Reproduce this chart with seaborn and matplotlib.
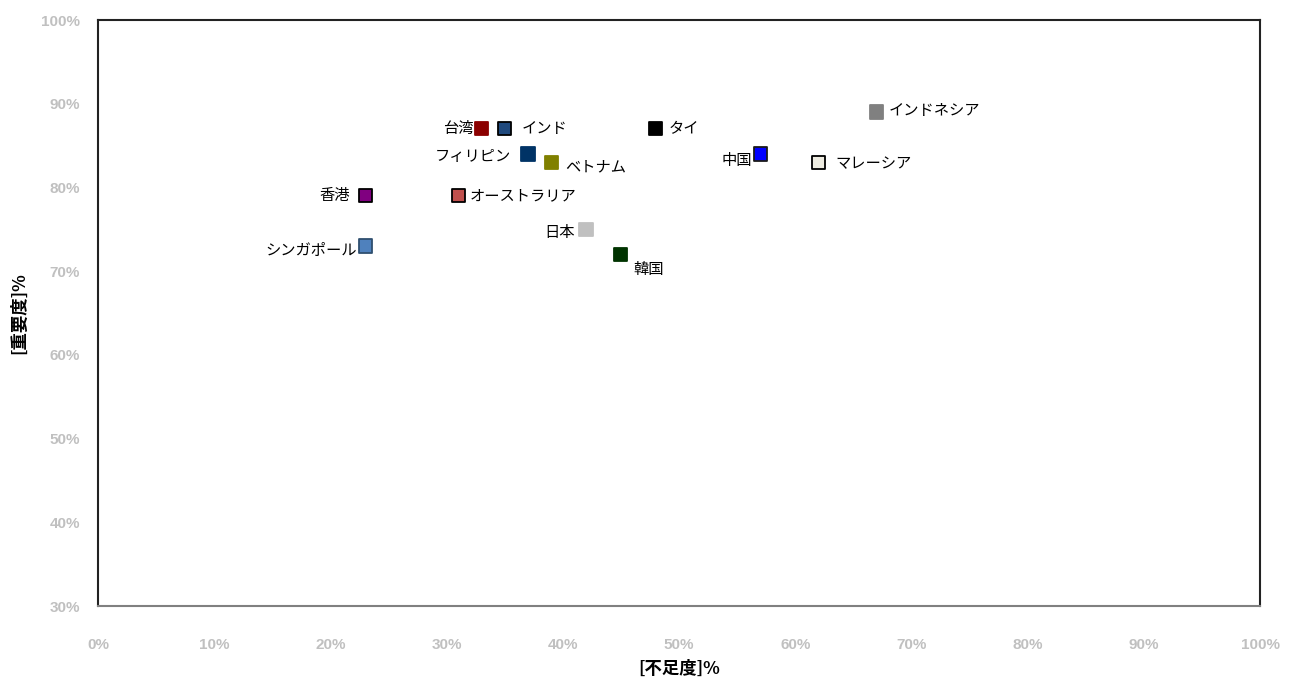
import matplotlib
matplotlib.use("Agg")
import matplotlib.pyplot as plt
import seaborn as sns
import pandas as pd
from matplotlib.ticker import FuncFormatter, MultipleLocator

# Data
countries = ["台湾", "インド", "タイ", "インドネシア", "フィリピン", "ベトナム", "中国",
             "マレーシア", "香港", "オーストラリア", "日本", "シンガポール", "韓国"]
shortage = [33, 35, 48, 67, 37, 39, 57, 62, 23, 31, 42, 23, 45]      # 不足度 %
importance = [87, 87, 87, 89, 84, 83, 84, 83, 79, 79, 75, 73, 72]     # 重要度 %
fill_colors = ["#8B0000", "#1F497D", "#000000", "#808080", "#003366", "#808000", "#0000FF",
               "#EEECE1", "#800080", "#C0504D", "#C0C0C0", "#4F81BD", "#003300"]
edge_colors = ["#8B0000", "#000000", "#000000", "#808080", "#003366", "#808000", "#1A1A1A",
               "#000000", "#000000", "#000000", "#C0C0C0", "#2F4F6F", "#003300"]
# label offsets (points): dx, dy, ha
label_pos = [(-6, 0, "right"), (12, 0, "left"), (9, 0, "left"), (9, 1, "left"),
             (-12, -2, "right"), (10, -3, "left"), (-6, -5, "right"), (12, -1, "left"),
             (-11, 0, "right"), (8, 0, "left"), (-8, -2, "right"), (-6, -3, "right"),
             (9, -11, "left")]

df = pd.DataFrame({"country": countries, "x": shortage, "y": importance})

sns.set_style("white")
plt.rcParams["font.family"] = ["Noto Sans CJK JP", "Liberation Sans", "DejaVu Sans"]

fig = plt.figure(figsize=(12.95, 6.8), dpi=100)
ax = fig.add_axes([98 / 1295, 1 - 606 / 680, (1260 - 98) / 1295, (606 - 20) / 680])

sns.scatterplot(data=df, x="x", y="y", hue="country", palette=fill_colors,
                hue_order=countries, marker="s", s=90, edgecolor=edge_colors,
                linewidth=1.3, legend=False, ax=ax, zorder=3)

for i, c in enumerate(countries):
    dx, dy, ha = label_pos[i]
    ax.annotate(c, (shortage[i], importance[i]), xytext=(dx, dy), textcoords="offset points",
                ha=ha, va="center", fontsize=11, color="black",
                family=["Noto Sans CJK JP", "DejaVu Sans"])

ax.set_xlim(0, 100)
ax.set_ylim(30, 100)
ax.xaxis.set_major_locator(MultipleLocator(10))
ax.yaxis.set_major_locator(MultipleLocator(10))
ax.xaxis.set_major_formatter(FuncFormatter(lambda v, p: f"{int(round(v))}%"))
ax.yaxis.set_major_formatter(FuncFormatter(lambda v, p: f"{int(round(v))}%"))
for lab in ax.get_xticklabels() + ax.get_yticklabels():
    lab.set_family(["Liberation Sans", "DejaVu Sans"])
    lab.set_fontweight("bold")
    lab.set_fontsize(11)
    lab.set_color("#C0C0C0")
ax.tick_params(axis="x", length=0, pad=23)
ax.tick_params(axis="y", length=0, pad=13)

for side in ["left", "top", "right"]:
    ax.spines[side].set_visible(True)
    ax.spines[side].set_color("#222222")
    ax.spines[side].set_linewidth(1.5)
ax.spines["bottom"].set_color("#808080")
ax.spines["bottom"].set_linewidth(1.5)

ax.set_xlabel("[不足度]%", fontsize=12.5, fontweight="bold", labelpad=6, color="black",
              family=["Noto Sans CJK JP", "DejaVu Sans"])
ax.set_ylabel("[重要度]%", fontsize=12.5, fontweight="bold", labelpad=9, color="black",
              family=["Noto Sans CJK JP", "DejaVu Sans"])

fig.savefig("out.png", dpi=100)
